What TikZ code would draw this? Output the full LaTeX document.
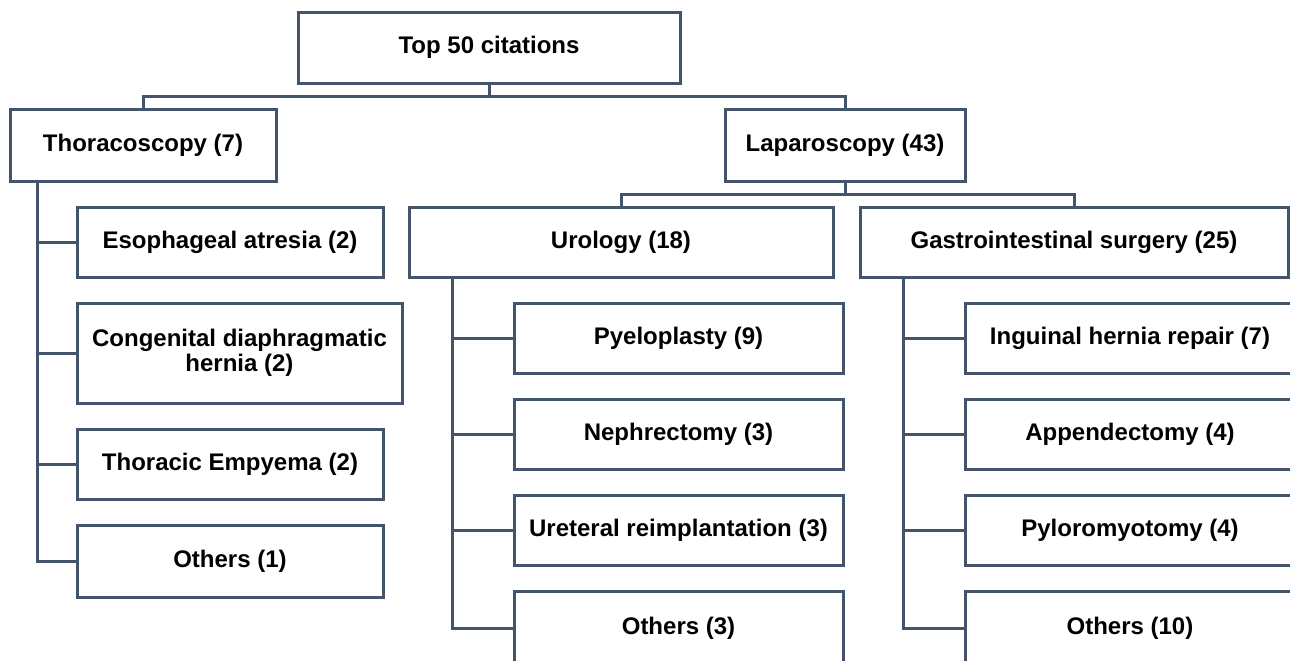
\documentclass[tikz,border=0pt]{standalone}
\usepackage{fontspec}
\setmainfont{Liberation Sans}
\usepackage{tikz}
\usetikzlibrary{calc,positioning}
\definecolor{slategray4}{HTML}{44546A}

\begin{document}
\begin{tikzpicture}[
  x=0.5pt, y=-0.5pt,
  node distance=13pt and 0pt,
  font=\fontsize{12}{12.5}\selectfont\bfseries,
  boxstyle/.style={draw=slategray4, line width=1.5pt, inner sep=0, outer sep=0, minimum height=35pt, align=center},
  leafstyle/.style={boxstyle, minimum width=164.5pt},
  pathstyle/.style={draw=slategray4, line width=1.5pt}
]
  \useasboundingbox (0,0) rectangle (1290,660);
  \clip (0,0) rectangle (1290,660);

  \node[boxstyle, minimum width=191pt, minimum height=35.5pt] (TOP) at (489,47.5)
    {Top 50 citations};
  \node[boxstyle, minimum width=133pt, minimum height=36pt] (THOR) at (143,145)
    {Thoracoscopy (7)};
  \node[boxstyle, minimum width=120pt, minimum height=36pt] (LAP) at (845,145)
    {Laparoscopy (43)};
  \node[boxstyle, minimum width=212pt] (URO) at (621,242)
    {Urology (18)};
  \node[boxstyle, minimum width=214pt] (GI) at (1074,242)
    {Gastrointestinal surgery (25)};

  % thoracoscopy
  \node[leafstyle, minimum width=153pt] (ESO) at (230,242)
    {Esophageal atresia (2)};
  \node[leafstyle, minimum width=162.5pt, minimum height=50pt, below=of ESO.south west, anchor=north west] (CDH)
    {Congenital diaphragmatic\\hernia (2)};
  \node[leafstyle, minimum width=153pt, below=of CDH.south west, anchor=north west] (EMP)
    {Thoracic Empyema (2)};
  \node[leafstyle, minimum width=153pt, minimum height=36pt, below=of EMP.south west, anchor=north west] (OTH1)
    {Others (1)};

  % urology
  \node[leafstyle] (PYE) at (678.5,338)
    {Pyeloplasty (9)};
  \node[leafstyle, below=of PYE] (NEP)
    {Nephrectomy (3)};
  \node[leafstyle, below=of NEP] (URE)
    {Ureteral reimplantation (3)};
  \node[leafstyle, minimum height=37pt, below=of URE] (OTH2)
    {Others (3)};

  % gastrointestinal surgery
  \node[leafstyle, minimum width=165pt, anchor=west] (ING) at (965,338)
    {Inguinal hernia repair (7)};
  \node[leafstyle, minimum width=165pt, below=of ING] (APP)
    {Appendectomy (4)};
  \node[leafstyle, minimum width=165pt, below=of APP] (PYL)
    {Pyloromyotomy (4)};
  \node[leafstyle, minimum width=165pt, minimum height=37pt, below=of PYL] (OTH3)
    {Others (10)};

  \coordinate (J0) at ($(TOP.south)!0.5!(TOP.south |- THOR.north)$);
  \coordinate (J1) at ($(LAP.south)!0.5!(LAP.south |- URO.north)$);
  \draw[pathstyle] (TOP.south) -- (J0);
  \draw[pathstyle] (THOR.north) |- (J0) -| (LAP.north);
  \draw[pathstyle] (LAP.south) -- (J1);
  \draw[pathstyle] (URO.north) |- (J1) -| (GI.north);

  \coordinate (TV) at ([xshift=13.5pt]THOR.south west);
  \coordinate (UV) at ([xshift=21.5pt]URO.south west);
  \coordinate (GV) at ([xshift=21.5pt]GI.south west);

  \draw[pathstyle] (TV) |- (OTH1.west);
  \foreach \n in {ESO,CDH,EMP}
    \draw[pathstyle] (TV |- \n.west) -- (\n.west);

  \draw[pathstyle] (UV) |- (OTH2.west);
  \foreach \n in {PYE,NEP,URE}
    \draw[pathstyle] (UV |- \n.west) -- (\n.west);

  \draw[pathstyle] (GV) |- (OTH3.west);
  \foreach \n in {ING,APP,PYL}
    \draw[pathstyle] (GV |- \n.west) -- (\n.west);
\end{tikzpicture}
\end{document}
